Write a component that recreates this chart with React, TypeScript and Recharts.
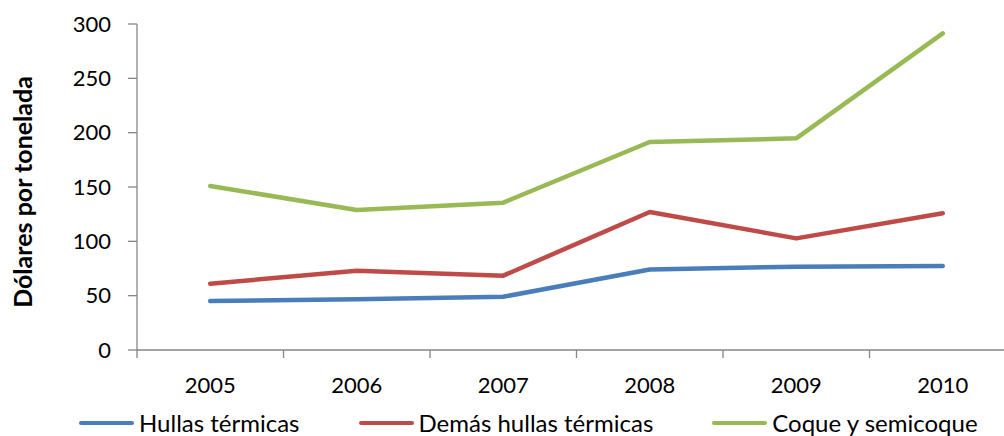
import { LineChart, Line, XAxis, YAxis, Legend } from 'recharts';

const years = ['2005', '2006', '2007', '2008', '2009', '2010'];
const hullasTermicas = [45, 46.6, 49, 74, 76.7, 77.3];
const demasHullas = [61, 73, 68.4, 127, 102.7, 125.8];
const coque = [151, 128.8, 135.6, 191.4, 194.8, 291.4];
const seriesNames = ['Hullas térmicas', 'Demás hullas térmicas', 'Coque y semicoque'];
const yTicks = [0, 50, 100, 150, 200, 250, 300];

const data = years.map((year, i) => ({
  year,
  hullas: hullasTermicas[i],
  demas: demasHullas[i],
  coque: coque[i],
}));

const FONT = 'Lato, "Open Sans", sans-serif';
const AXIS = '#868686';
const X_TICK_MARGIN = 27;

// year label in the middle of its band, tick mark on the band's left edge
const YearTick = (props: any) => {
  const { x, y, payload } = props;
  const axisY = y - X_TICK_MARGIN;
  const edgeX = x - (payload.offset ?? 0);
  return (
    <g>
      <line x1={edgeX} x2={edgeX} y1={axisY} y2={axisY + 8} stroke={AXIS} strokeWidth={1.3} />
      <text x={x} y={y} dy="0.71em" textAnchor="middle" fill="#000" fontSize={22} fontFamily={FONT}>
        {payload.value}
      </text>
    </g>
  );
};

const renderLegend = (props: any) => {
  const items = [...props.payload].sort(
    (a: any, b: any) => seriesNames.indexOf(a.value) - seriesNames.indexOf(b.value)
  );
  return (
    <div style={{ display: 'flex', alignItems: 'center', fontFamily: FONT, fontSize: 24, lineHeight: 1.2, color: '#000', whiteSpace: 'nowrap' }}>
      {items.map((item: any) => (
        <div key={item.value} style={{ display: 'flex', alignItems: 'center', marginRight: 59 }}>
          <span style={{ display: 'inline-block', width: 55, height: 4, borderRadius: 2, background: item.color, marginRight: 5 }} />
          {item.value}
        </div>
      ))}
    </div>
  );
};

export default function App() {
  return (
    <div style={{ position: 'absolute', left: 0, top: 0, width: 1004, height: 436, overflow: 'hidden', background: '#fff' }}>
      <LineChart
        width={1030}
        height={436}
        data={data}
        margin={{ top: 24, right: 14, bottom: 38, left: 0 }}
        style={{ fontFamily: FONT }}
      >
        <XAxis
          dataKey="year"
          scale="band"
          stroke={AXIS}
          strokeWidth={1.3}
          tickLine={false}
          tickSize={0}
          tickMargin={X_TICK_MARGIN}
          height={48}
          interval={0}
          tick={<YearTick />}
        />
        <YAxis
          domain={[0, 300]}
          ticks={yTicks}
          width={137}
          tickSize={9}
          tickMargin={17}
          stroke={AXIS}
          strokeWidth={1.3}
          tick={{ fill: '#000', fontSize: 22, fontFamily: FONT }}
          label={{
            value: 'Dólares por tonelada',
            angle: -90,
            position: 'center',
            dx: -45,
            dy: 5,
            style: { fontWeight: 700, fontSize: 25, fill: '#000', fontFamily: FONT },
          }}
        />
        <Legend
          layout="horizontal"
          verticalAlign="middle"
          align="center"
          content={renderLegend}
          wrapperStyle={{ left: 79, top: 409, width: 'auto', height: 'auto' }}
        />
        <Line type="linear" dataKey="hullas" name={seriesNames[0]} stroke="#4A7EBB" strokeWidth={4.5} dot={false} strokeLinecap="round" strokeLinejoin="round" isAnimationActive={false} />
        <Line type="linear" dataKey="demas" name={seriesNames[1]} stroke="#BE4B48" strokeWidth={4.5} dot={false} strokeLinecap="round" strokeLinejoin="round" isAnimationActive={false} />
        <Line type="linear" dataKey="coque" name={seriesNames[2]} stroke="#98B954" strokeWidth={4.5} dot={false} strokeLinecap="round" strokeLinejoin="round" isAnimationActive={false} />
      </LineChart>
    </div>
  );
}
